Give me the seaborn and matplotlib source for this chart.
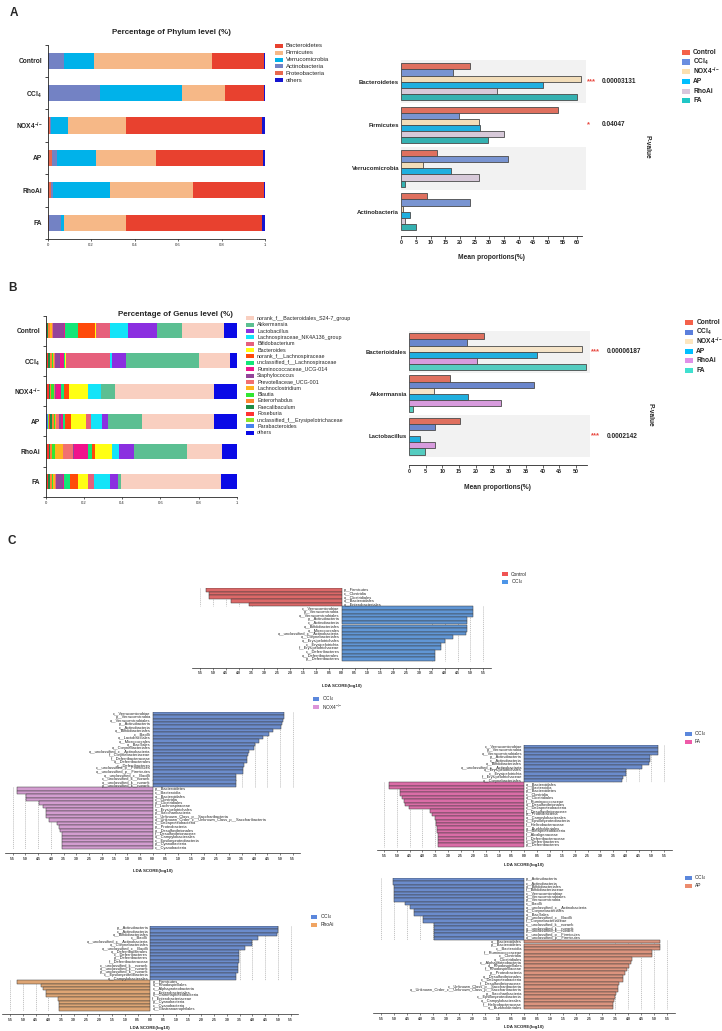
import numpy as np
import pandas as pd
import matplotlib
matplotlib.use("Agg")
import matplotlib.pyplot as plt
from matplotlib.patches import Rectangle
import seaborn as sns

sns.set_theme(style="ticks")
plt.rcParams["font.family"] = ["Liberation Sans", "DejaVu Sans"]
plt.rcParams["mathtext.fontset"] = "custom"
plt.rcParams["mathtext.rm"] = "Liberation Sans"
plt.rcParams["mathtext.bf"] = "Liberation Sans:bold"
plt.rcParams["axes.linewidth"] = 0.6

# ---------------- data ----------------
groups = ["Control", "CCl4", "NOX4", "AP", "RhoAi", "FA"]
bold_names = ["Control", r"CCl$_\mathbf{4}$", r"NOX4$^\mathbf{{-}/{-}}$", "AP", "RhoAi", "FA"]
plain_names = {"Control": "Control", "CCl4": r"CCl$_4$", "NOX4": r"NOX4$^{{-}/{-}}$",
               "AP": "AP", "RhoAi": "RhoAi", "FA": "FA"}

# A: phylum composition, stacked left -> right (Control, CCl4, NOX4, AP, RhoAi, FA)
phylum_names = ["Proteobacteria", "Actinobacteria", "Verrucomicrobia", "Firmicutes", "Bacteroidetes", "others"]
proteobacteria = [0.0, 0.0, 0.010, 0.018, 0.014, 0.008]
actinobacteria = [0.075, 0.241, 0.006, 0.026, 0.012, 0.055]
verrucomicrobia = [0.138, 0.377, 0.076, 0.178, 0.260, 0.010]
firmicutes = [0.545, 0.198, 0.268, 0.275, 0.384, 0.287]
bacteroidetes = [0.236, 0.178, 0.628, 0.495, 0.325, 0.628]
phylum_others = [0.006, 0.006, 0.012, 0.008, 0.005, 0.012]
phylum_values = [proteobacteria, actinobacteria, verrucomicrobia, firmicutes, bacteroidetes, phylum_others]
phylum_colors = {"Bacteroidetes": "#e8412f", "Firmicutes": "#f6b887", "Verrucomicrobia": "#00b2ea",
                 "Actinobacteria": "#7382c4", "Proteobacteria": "#e8684f", "others": "#1515d0"}
phylum_legend = ["Bacteroidetes", "Firmicutes", "Verrucomicrobia", "Actinobacteria", "Proteobacteria", "others"]

# A right: mean proportions (%)
phylum_taxa = ["Bacteroidetes", "Firmicutes", "Verrucomicrobia", "Actinobacteria"]
a_control = [23.3, 53.4, 12.0, 8.6]
a_ccl4 = [17.6, 19.8, 36.3, 23.5]
a_nox4 = [61.1, 26.6, 7.4, 0.7]
a_ap = [48.4, 26.9, 17.0, 2.8]
a_rhoai = [32.7, 35.1, 26.6, 1.4]
a_fa = [60.0, 29.7, 1.4, 4.9]
a_stars = ["***", "*", "", ""]
a_pvalues = ["0.00003131", "0.04047", "", ""]
a_colors = ["#f4614a", "#6a8ee0", "#fbe0b0", "#00bfff", "#d9c6dc", "#20c6c6"]

# B: genus composition, stacked left -> right
genus_stack = ["Parabacteroides", "unclassified_f__Erysipelotrichaceae", "Roseburia", "Faecalibaculum",
               "Enterorhabdus", "Blautia", "Lachnoclostridium", "Prevotellaceae_UCG-001", "Staphylococcus",
               "Ruminococcaceae_UCG-014", "unclassified_f__Lachnospiraceae", "norank_f__Lachnospiraceae",
               "Bacteroides", "Bifidobacterium", "Lachnospiraceae_NK4A136_group", "Lactobacillus",
               "Akkermansia", "norank_f__Bacteroidales_S24-7_group", "others"]
parabacteroides = [0.0, 0.002, 0.002, 0.012, 0.002, 0.002]
uncl_erysipelotrichaceae = [0.003, 0.005, 0.005, 0.005, 0.005, 0.005]
roseburia = [0.003, 0.003, 0.008, 0.008, 0.012, 0.005]
faecalibaculum = [0.005, 0.015, 0.010, 0.008, 0.003, 0.012]
enterorhabdus = [0.010, 0.010, 0.005, 0.010, 0.010, 0.008]
blautia = [0.003, 0.003, 0.012, 0.008, 0.015, 0.005]
lachnoclostridium = [0.010, 0.008, 0.003, 0.005, 0.045, 0.010]
prevotellaceae = [0.005, 0.005, 0.005, 0.015, 0.053, 0.005]
staphylococcus = [0.058, 0.022, 0.005, 0.008, 0.002, 0.040]
ruminococcaceae = [0.002, 0.022, 0.025, 0.012, 0.073, 0.003]
uncl_lachnospiraceae = [0.068, 0.004, 0.018, 0.010, 0.025, 0.030]
norank_lachnospiraceae = [0.089, 0.004, 0.022, 0.034, 0.015, 0.045]
bacteroides = [0.009, 0.002, 0.100, 0.075, 0.085, 0.050]
bifidobacterium = [0.073, 0.230, 0.003, 0.027, 0.002, 0.035]
nk4a136 = [0.094, 0.010, 0.065, 0.058, 0.035, 0.080]
lactobacillus = [0.150, 0.075, 0.002, 0.030, 0.078, 0.045]
akkermansia = [0.134, 0.380, 0.075, 0.180, 0.280, 0.012]
s24_7 = [0.220, 0.165, 0.515, 0.375, 0.185, 0.528]
genus_others = [0.065, 0.035, 0.120, 0.120, 0.075, 0.080]
genus_values = [parabacteroides, uncl_erysipelotrichaceae, roseburia, faecalibaculum, enterorhabdus, blautia,
                lachnoclostridium, prevotellaceae, staphylococcus, ruminococcaceae, uncl_lachnospiraceae,
                norank_lachnospiraceae, bacteroides, bifidobacterium, nk4a136, lactobacillus, akkermansia,
                s24_7, genus_others]
genus_colors = {"norank_f__Bacteroidales_S24-7_group": "#f9cfc0", "Akkermansia": "#5bbf92",
                "Lactobacillus": "#8b2fe0", "Lachnospiraceae_NK4A136_group": "#14e4f8",
                "Bifidobacterium": "#e6607c", "Bacteroides": "#ffff14", "norank_f__Lachnospiraceae": "#ff4a0a",
                "unclassified_f__Lachnospiraceae": "#14e678", "Ruminococcaceae_UCG-014": "#f0148c",
                "Staphylococcus": "#94459a", "Prevotellaceae_UCG-001": "#f27070", "Lachnoclostridium": "#ffb41e",
                "Blautia": "#32e632", "Enterorhabdus": "#ff8232", "Faecalibaculum": "#1e8c46",
                "Roseburia": "#ff3232", "unclassified_f__Erysipelotrichaceae": "#8ce628",
                "Parabacteroides": "#4682f0", "others": "#0a0ae6"}
genus_legend = list(genus_stack[:-1][::-1]) + ["others"]

# B right: mean proportions (%)
genus_taxa = ["Bacterioidales", "Akkermansia", "Lactobacillus"]
b_control = [22.5, 12.4, 15.2]
b_ccl4 = [17.5, 37.5, 7.7]
b_nox4 = [51.9, 7.5, 0.1]
b_ap = [38.2, 17.7, 3.3]
b_rhoai = [20.3, 27.4, 7.9]
b_fa = [52.9, 1.3, 4.7]
b_stars = ["***", "", "***"]
b_pvalues = ["0.00006187", "", "0.0002142"]
b_colors = ["#f4614a", "#5b7fdc", "#fde6c0", "#00bfff", "#e090e8", "#40e0d0"]

# C: LEfSe LDA scores
c1_control_taxa = ["p__Firmicutes", "c__Clostridia", "o__Clostridiales", "o__Bacteroidales", "o__Enterobacteriales"]
c1_control_lda = [5.27, 5.15, 5.15, 4.30, 3.60]
c1_ccl4_taxa = ["c__Verrucomicrobiae", "p__Verrucomicrobia", "o__Verrucomicrobiales", "p__Actinobacteria",
                "c__Actinobacteria", "o__Bifidobacteriales", "o__Micrococcales",
                "o__unclassified_c__Actinobacteria", "o__Corynebacteriales", "o__Erysipelotrichales",
                "c__Erysipelotrichia", "f__Erysipelotrichaceae", "c__Deferribacteres", "o__Deferribacterales",
                "p__Deferribacteres"]
c1_ccl4_lda = [5.11, 5.11, 5.11, 4.88, 4.88, 4.88, 4.85, 4.82, 4.33, 4.01, 3.84, 3.84, 3.61, 3.61, 3.61]

c2_ccl4_taxa = ["c__Verrucomicrobiae", "p__Verrucomicrobia", "o__Verrucomicrobiales", "p__Actinobacteria",
                "c__Actinobacteria", "o__Bifidobacteriales", "c__Bacilli", "o__Lactobacillales",
                "o__Micrococcales", "o__Bacillales", "o__Corynebacteriales", "o__unclassified_c__Actinobacteria",
                "f__Corynebacteriaceae", "f__Deferribacteraceae", "o__Deferribacterales", "c__Deferribacteres",
                "c__unclassified_p__Firmicutes", "o__unclassified_p__Firmicutes", "o__unclassified_c__Bacilli",
                "c__unclassified_k__norank", "o__unclassified_k__norank", "p__unclassified_k__norank"]
c2_ccl4_lda = [5.17, 5.17, 5.10, 5.07, 5.04, 4.71, 4.56, 4.32, 4.19, 4.02, 3.98, 3.80, 3.76, 3.72, 3.72,
               3.59, 3.56, 3.56, 3.26, 3.26, 3.26, 3.26]
c2_nox4_taxa = ["p__Bacteroidetes", "c__Bacteroidia", "o__Bacteroidales", "c__Clostridia", "o__Clostridiales",
                "f__Lachnospiraceae", "o__Erysipelotrichales", "p__Saccharibacteria",
                "c__Unknown_Class_p__Saccharibacteria", "o__Unknown_Order_c__Unknown_Class_p__Saccharibacteria",
                "c__Deltaproteobacteria", "p__Proteobacteria", "o__Desulfovibrionales", "f__Desulfovibrionaceae",
                "o__Campylobacterales", "c__Epsilonproteobacteria", "p__Cyanobacteria", "c__Cyanobacteria"]
c2_nox4_lda = [5.32, 5.32, 4.98, 4.98, 4.45, 4.30, 4.20, 4.20, 4.20, 4.07, 3.75, 3.69, 3.64, 3.58, 3.55,
               3.55, 3.55, 3.55]

c3_ccl4_taxa = ["c__Verrucomicrobiae", "p__Verrucomicrobia", "o__Verrucomicrobiales", "p__Actinobacteria",
                "c__Actinobacteria", "o__Bifidobacteriales", "o__unclassified_c__Actinobacteria",
                "o__Erysipelotrichales", "c__Erysipelotrichia", "f__Erysipelotrichaceae", "o__Corynebacteriales"]
c3_ccl4_lda = [5.25, 5.25, 5.25, 4.95, 4.95, 4.92, 4.62, 3.99, 3.99, 3.90, 3.86]
c3_fa_taxa = ["o__Bacteroidales", "c__Bacteroidia", "p__Bacteroidetes", "c__Clostridia", "o__Clostridiales",
              "f__Ruminococcaceae", "o__Desulfovibrionales", "c__Deltaproteobacteria", "f__Desulfovibrionaceae",
              "p__Proteobacteria", "o__Campylobacterales", "c__Epsilonproteobacteria", "f__Helicobacteraceae",
              "o__Burkholderiales", "c__Betaproteobacteria", "f__Alcaligenaceae", "f__Deferribacteraceae",
              "c__Deferribacteres", "p__Deferribacteres"]
c3_fa_lda = [5.33, 5.33, 4.90, 4.87, 4.80, 4.74, 4.67, 4.54, 3.71, 3.61, 3.52, 3.48, 3.45, 3.42, 3.41,
             3.39, 3.39, 3.39, 3.39]

c4_ccl4_taxa = ["p__Actinobacteria", "c__Actinobacteria", "o__Bifidobacteriales", "c__Bacilli",
                "o__unclassified_c__Actinobacteria", "o__Corynebacteriales", "o__unclassified_c__Bacilli",
                "o__Deferribacterales", "c__Deferribacteres", "p__Deferribacteres", "f__Deferribacteraceae",
                "c__unclassified_k__norank", "o__unclassified_k__norank", "p__unclassified_k__norank",
                "c__Epsilonproteobacteria", "o__Campylobacterales"]
c4_ccl4_lda = [5.02, 5.02, 4.98, 4.20, 3.98, 3.98, 3.72, 3.49, 3.49, 3.47, 3.47, 3.43, 3.43, 3.43, 3.34, 3.34]
c4_rhoai_taxa = ["p__Firmicutes", "o__Rhodospirillales", "c__Alphaproteobacteria", "o__Enterobacteriales",
                 "c__Gammaproteobacteria", "f__Enterobacteriaceae", "p__Cyanobacteria", "c__Cyanobacteria",
                 "o__Gastranaerophilales"]
c4_rhoai_lda = [5.24, 4.30, 4.21, 4.10, 4.10, 3.62, 3.59, 3.59, 3.59]

c5_ccl4_taxa = ["p__Actinobacteria", "c__Actinobacteria", "o__Bifidobacteriales", "f__Bifidobacteriaceae",
                "c__Verrucomicrobiae", "o__Verrucomicrobiales", "p__Verrucomicrobia", "c__Bacilli",
                "o__unclassified_c__Actinobacteria", "o__Corynebacteriales", "o__Bacillales",
                "o__unclassified_c__Bacilli", "f__Corynebacteriaceae", "c__unclassified_k__norank",
                "o__unclassified_k__norank", "p__unclassified_k__norank", "c__unclassified_p__Firmicutes",
                "o__unclassified_p__Firmicutes"]
c5_ccl4_lda = [5.02, 5.02, 5.00, 5.00, 5.00, 5.00, 5.00, 4.57, 4.40, 4.22, 4.22, 3.88, 3.88, 3.48, 3.48,
               3.48, 3.46, 3.46]
c5_ap_taxa = ["o__Bacteroidales", "p__Bacteroidetes", "c__Bacteroidia", "f__Ruminococcaceae", "c__Clostridia",
              "o__Clostridiales", "c__Alphaproteobacteria", "o__Rhodospirillales", "f__Rhodospirillaceae",
              "p__Proteobacteria", "o__Desulfovibrionales", "c__Deltaproteobacteria", "f__Desulfovibrionaceae",
              "c__Unknown_Class_p__Saccharibacteria", "o__Unknown_Order_c__Unknown_Class_p__Saccharibacteria",
              "p__Saccharibacteria", "c__Epsilonproteobacteria", "o__Campylobacterales", "f__Helicobacteraceae",
              "o__Burkholderiales"]
c5_ap_lda = [5.23, 5.23, 5.23, 4.90, 4.90, 4.13, 4.10, 4.04, 3.94, 3.87, 3.81, 3.81, 3.66, 3.62, 3.62,
             3.53, 3.50, 3.47, 3.43, 3.40]

# ---------------- figure ----------------
W, H = 722, 1031
fig = plt.figure(figsize=(W / 100, H / 100), dpi=100)


def px_axes(x0, y0, x1, y1):
    return fig.add_axes([x0 / W, 1 - y1 / H, (x1 - x0) / W, (y1 - y0) / H])


def fig_text(x, y, s, **kw):
    fig.text(x / W, 1 - y / H, s, **kw)


def legend_column(x, y0, dy, names, colors, size, hw, hh, weight="normal", gap=3):
    for i, (name, c) in enumerate(zip(names, colors)):
        y = y0 + i * dy
        fig.add_artist(Rectangle((x / W, 1 - (y + hh / 2) / H), hw / W, hh / H,
                                 transform=fig.transFigure, facecolor=c, edgecolor="none"))
        fig_text(x + hw + gap, y, name, fontsize=size, weight=weight, va="center", ha="left")


def stacked_panel(rect, series, names, colors, title, title_xy):
    ax = px_axes(*rect)
    left = np.zeros(len(groups))
    for name, vals in zip(names, series):
        ax.barh(np.arange(len(groups)), vals, left=left, height=0.5, color=colors[name], linewidth=0)
        left += np.array(vals)
    ax.set_xlim(0, 1)
    ax.set_ylim(len(groups) - 0.5, -0.5)
    ax.set_yticks(np.arange(len(groups)))
    ax.set_yticklabels(bold_names, fontsize=4.8, fontweight="bold")
    ax.set_yticks(np.arange(-0.5, len(groups)), minor=True)
    ax.tick_params(axis="y", which="major", length=0, pad=4)
    ax.tick_params(axis="y", which="minor", length=2.5, width=0.6)
    ax.set_xticks([0, 0.2, 0.4, 0.6, 0.8, 1])
    ax.set_xticklabels(["0", "0.2", "0.4", "0.6", "0.8", "1"], fontsize=3)
    ax.tick_params(axis="x", length=1.5, width=0.5, pad=1.5)
    sns.despine(ax=ax)
    fig_text(*title_xy, title, fontsize=5.8, fontweight="bold", ha="center", va="center")
    return ax


def mean_panel(rect, taxa, series, colors, xmax, band_end, stars, pvals, star_x, p_x, width, ybottom):
    ax = px_axes(*rect)
    rows = [(t, g, v) for g, vals in zip(groups, series) for t, v in zip(taxa, vals)]
    df = pd.DataFrame(rows, columns=["taxon", "group", "value"])
    for i in range(0, len(taxa), 2):
        ax.axhspan(i - 0.5, i + 0.5, xmin=0, xmax=band_end / xmax, facecolor="#f2f2f2",
                   edgecolor="none", zorder=0, clip_on=False)
    sns.barplot(data=df, x="value", y="taxon", hue="group", order=taxa, hue_order=groups,
                palette=dict(zip(groups, colors)), orient="h", width=width, edgecolor="#4a4a4a",
                linewidth=0.6, errorbar=None, legend=False, ax=ax, zorder=2)
    ax.set_xlim(0, xmax)
    ax.set_ylim(ybottom, -0.5)
    ax.set_xticks(np.arange(0, xmax, 5))
    ax.tick_params(axis="x", labelsize=3.9, length=1.8, width=0.5, pad=1.2)
    for lab in ax.get_xticklabels():
        lab.set_fontweight("bold")
    ax.tick_params(axis="y", length=0, pad=1.5)
    ax.set_yticks(range(len(taxa)))
    ax.set_yticklabels(taxa, fontsize=4.3, fontweight="bold")
    ax.set_ylabel("")
    ax.set_xlabel("Mean proportions(%)", fontsize=4.8, fontweight="bold", labelpad=7)
    sns.despine(ax=ax, left=True)
    for i, (s, p) in enumerate(zip(stars, pvals)):
        ax.text(star_x, i, s, color="#e8453c", fontsize=5.5, fontweight="bold", va="center", ha="left")
        ax.text(p_x, i, p, fontsize=4.7, fontweight="bold", va="center", ha="left")
    return ax


def lda_panel(x_m55, x_p55, y_top, y_bars, y_axis, y_label, top_taxa, top_lda, top_color,
              bot_taxa, bot_lda, bot_color, top_sign):
    ppu = (x_p55 - x_m55) / 11.0
    n_top = len(top_taxa)
    n = n_top + len(bot_taxa)
    bar_h = (y_bars - y_top) / n
    ax = px_axes(x_m55 - 0.3 * ppu, y_top, x_p55 + 0.3 * ppu, y_axis)
    df = pd.DataFrame({
        "taxon": top_taxa + bot_taxa,
        "lda": [top_sign * v for v in top_lda] + [-top_sign * v for v in bot_lda],
        "group": ["top"] * n_top + ["bottom"] * len(bot_taxa),
    })
    grid = np.arange(3.5, 5.51, 0.5)
    ax.vlines(top_sign * grid, -0.5, n_top - 0.5, colors="#9a9a9a", linestyles=(0, (2, 1.5)),
              linewidth=0.4, zorder=0)
    ax.vlines(-top_sign * grid, n_top - 0.5, n - 0.5, colors="#9a9a9a", linestyles=(0, (2, 1.5)),
              linewidth=0.4, zorder=0)
    sns.barplot(data=df, x="lda", y="taxon", hue="group", palette={"top": top_color, "bottom": bot_color},
                orient="h", dodge=False, width=1.0, edgecolor="#3a3a3a", linewidth=0.35,
                errorbar=None, legend=False, ax=ax, zorder=2)
    for i, (t, v) in enumerate(zip(df["taxon"], df["lda"])):
        if v > 0:
            ax.text(-0.08, i, t, fontsize=2.9, ha="right", va="center")
        else:
            ax.text(0.08, i, t, fontsize=2.9, ha="left", va="center")
    ax.set_xlim(-5.8, 5.8)
    ax.set_ylim(n - 0.5 + (y_axis - y_bars) / bar_h, -0.5)
    ticks = np.arange(-5.5, 5.51, 0.5)
    ax.set_xticks(ticks)
    ax.set_xticklabels([f"{abs(v):.1f}" for v in ticks], fontsize=2.4, fontweight="bold")
    ax.tick_params(axis="x", length=1.5, width=0.4, pad=1.2)
    ax.set_yticks([])
    ax.set_ylabel("")
    ax.set_xlabel("")
    sns.despine(ax=ax, left=True)
    ax.spines["bottom"].set_linewidth(0.5)
    x0 = x_m55 + 5.5 * ppu
    fig_text(x0, y_label, "LDA SCORE(log10)", fontsize=3.2, fontweight="bold", ha="center", va="center")
    return ax


# panel letters
fig_text(10, 13, "A", fontsize=8.5, fontweight="bold", ha="left", va="center")
fig_text(8, 288, "B", fontsize=8.5, fontweight="bold", ha="left", va="center")
fig_text(8, 541, "C", fontsize=8.5, fontweight="bold", ha="left", va="center")

# A left
stacked_panel((47.7, 44.5, 265, 238.9), phylum_values, phylum_names, phylum_colors,
              "Percentage of Phylum level (%)", (171, 32))
legend_column(275, 45.7, 6.9, phylum_legend, [phylum_colors[k] for k in phylum_legend], 4.3, 7.7, 4)

# A right
mean_panel((401.3, 60, 581.7, 235.5), phylum_taxa, [a_control, a_ccl4, a_nox4, a_ap, a_rhoai, a_fa],
           a_colors, 61.5, 63.0, a_stars, a_pvalues, 63.3, 68.4, 0.85, 3.55)
fig_text(647, 147, "P-value", fontsize=4.8, fontweight="bold", rotation=270, ha="center", va="center")
legend_column(681.7, 52.3, 9.7, bold_names, a_colors, 4.8, 8.3, 5, weight="bold")

# B left
stacked_panel((45.7, 315.6, 236.7, 496.8), genus_values, genus_stack, genus_colors,
              "Percentage of Genus level (%)", (175.5, 314))
legend_column(246, 318.3, 6.36, genus_legend, [genus_colors[k] for k in genus_legend], 3.9, 8, 4)

# B right
mean_panel((409, 330.6, 586.7, 465.2), genus_taxa, [b_control, b_ccl4, b_nox4, b_ap, b_rhoai, b_fa],
           b_colors, 53.2, 54.2, b_stars, b_pvalues, 54.5, 59.2, 0.88, 2.69)
fig_text(650, 415, "P-value", fontsize=4.8, fontweight="bold", rotation=270, ha="center", va="center")
legend_column(685, 322.7, 9.46, bold_names, b_colors, 4.8, 8.3, 5, weight="bold")

# C panels
lda_panel(200, 483.3, 588, 661, 667.7, 686, c1_control_taxa, c1_control_lda, "#f05454",
          c1_ccl4_taxa, c1_ccl4_lda, "#4d95e8", -1)
legend_column(501.7, 574, 7.8, ["Control", plain_names["CCl4"]], ["#f05454", "#4d95e8"], 3.5, 6.5, 4)

lda_panel(12.7, 292.7, 711.7, 849.3, 853.3, 871, c2_ccl4_taxa, c2_ccl4_lda, "#5b87dc",
          c2_nox4_taxa, c2_nox4_lda, "#dc94d8", 1)
legend_column(312.7, 699, 8.0, [plain_names["CCl4"], plain_names["NOX4"]], ["#5b87dc", "#dc94d8"], 3.5, 6.5, 4)

lda_panel(384.3, 664, 745, 846.7, 850, 865, c3_ccl4_taxa, c3_ccl4_lda, "#5b87dc",
          c3_fa_taxa, c3_fa_lda, "#ee5aa8", 1)
legend_column(685, 733.5, 8, [plain_names["CCl4"], "FA"], ["#5b87dc", "#ee5aa8"], 3.5, 6.5, 4)

lda_panel(10, 290.7, 926, 1010.7, 1014, 1027.7, c4_ccl4_taxa, c4_ccl4_lda, "#5b87dc",
          c4_rhoai_taxa, c4_rhoai_lda, "#f0a462", 1)
legend_column(310.7, 916.7, 7.8, [plain_names["CCl4"], "RhoAi"], ["#5b87dc", "#f0a462"], 3.5, 6.5, 4)

lda_panel(381, 667.3, 877.7, 1009.3, 1013.3, 1026.7, c5_ccl4_taxa, c5_ccl4_lda, "#5b87dc",
          c5_ap_taxa, c5_ap_lda, "#ec8c6e", -1)
legend_column(685, 877.7, 8, [plain_names["CCl4"], "AP"], ["#5b87dc", "#ec8c6e"], 3.5, 6.5, 4)

fig.savefig("out.png", dpi=100)
